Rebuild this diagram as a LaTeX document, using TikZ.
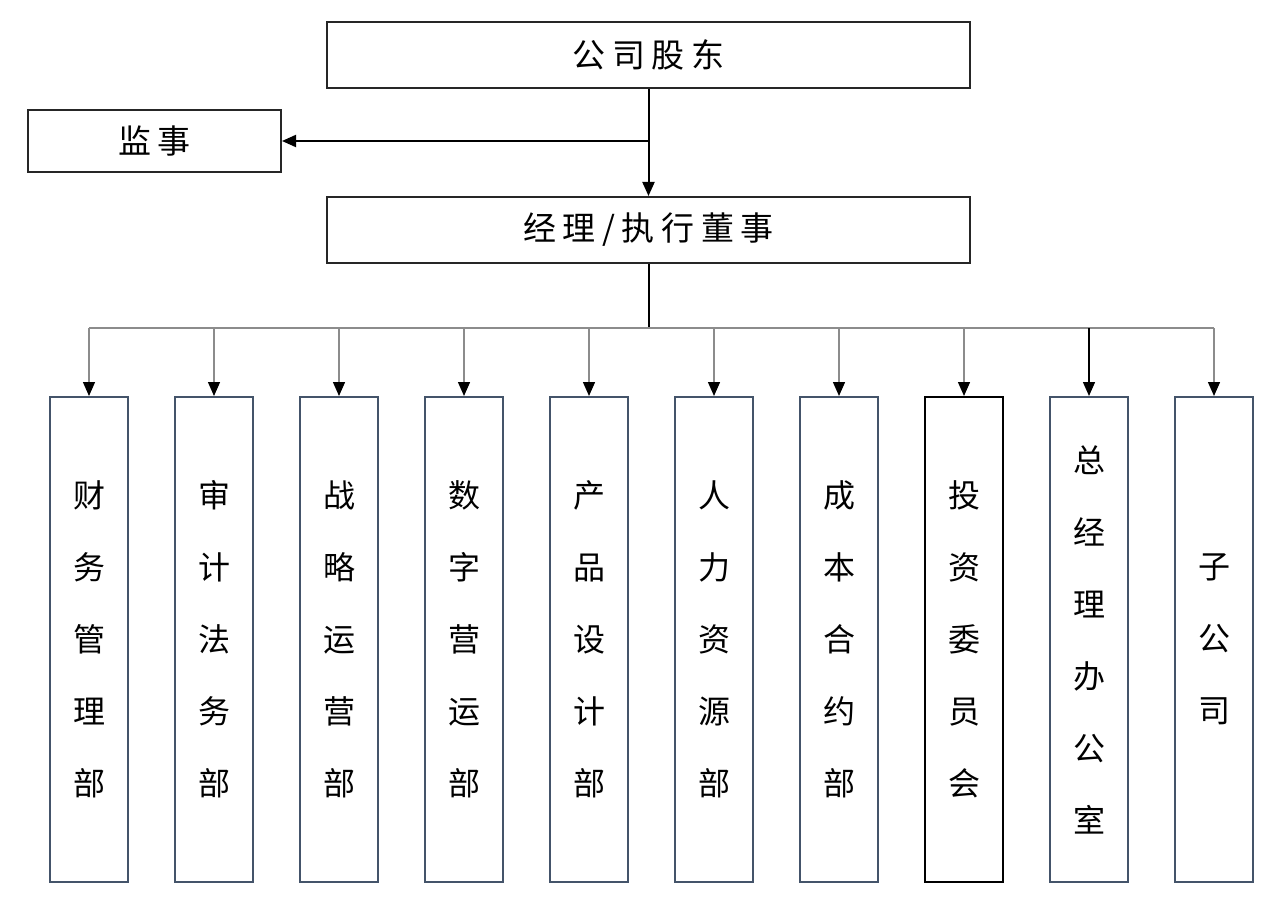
\documentclass[tikz,border=0pt]{standalone}
\usepackage{fontspec}
\setmainfont{Noto Sans CJK SC}
\newfontfamily\spacedcjk[LetterSpace=20]{Noto Sans CJK SC}
\usetikzlibrary{arrows.meta}
\definecolor{boxblue}{HTML}{44546A}
\definecolor{busgray}{HTML}{8C8C8C}
\definecolor{darkline}{HTML}{262626}
\tikzset{
  topbox/.style={draw=darkline, line width=2pt, minimum width=643pt, minimum height=66pt, inner sep=0pt, font=\spacedcjk\fontsize{33}{38}\selectfont},
  sidebox/.style={draw=darkline, line width=2pt, minimum width=253pt, minimum height=62pt, inner sep=0pt, font=\spacedcjk\fontsize{33}{38}\selectfont},
  deptbox/.style={draw=boxblue, line width=2pt, minimum width=78pt, minimum height=485pt, inner sep=0pt, align=center, font=\fontsize{32}{72}\selectfont},
  mainline/.style={draw=black, line width=2pt, -{Triangle[width=12pt,length=14pt]}},
  busline/.style={draw=busgray, line width=1.4pt},
  busarrow/.style={draw=busgray, line width=1.4pt, -{Triangle[width=12pt,length=14pt,fill=black,color=black]}},
  busarrowdark/.style={draw=black, line width=1.4pt, -{Triangle[width=12pt,length=14pt]}}
}
\begin{document}
\begin{tikzpicture}[x=1pt,y=-1pt]
\useasboundingbox (0,0) rectangle (1280,904);
\node[topbox] (gd) at (648.5,55) {公司股东};
\node[sidebox] (js) at (154.5,141) {监事};
\node[topbox] (jl) at (648.5,230) {经理/执行董事};
\coordinate (br) at (648.5,141);
\coordinate (bus) at (648.5,328);
\draw[mainline] (gd.south) -- (jl.north);
\draw[mainline] (br) -- (js.east);
\draw[line width=2pt] (jl.south) -- (bus);
\node[deptbox] (d1) at (89,639.5) {财\\务\\管\\理\\部};
\node[deptbox] (d2) at (214,639.5) {审\\计\\法\\务\\部};
\node[deptbox] (d3) at (339,639.5) {战\\略\\运\\营\\部};
\node[deptbox] (d4) at (464,639.5) {数\\字\\营\\运\\部};
\node[deptbox] (d5) at (589,639.5) {产\\品\\设\\计\\部};
\node[deptbox] (d6) at (714,639.5) {人\\力\\资\\源\\部};
\node[deptbox] (d7) at (839,639.5) {成\\本\\合\\约\\部};
\node[deptbox, draw=black] (d8) at (964,639.5) {投\\资\\委\\员\\会};
\node[deptbox] (d9) at (1089,639.5) {总\\经\\理\\办\\公\\室};
\node[deptbox] (d10) at (1214,639.5) {子\\公\\司};
\draw[busline] (d1.north |- bus) -- (d10.north |- bus);
\foreach \d in {d1,d2,d3,d4,d5,d6,d7,d8,d10}{
  \draw[busarrow] (\d.north |- bus) -- (\d.north);
}
\draw[busarrowdark] (d9.north |- bus) -- (d9.north);
\end{tikzpicture}
\end{document}
